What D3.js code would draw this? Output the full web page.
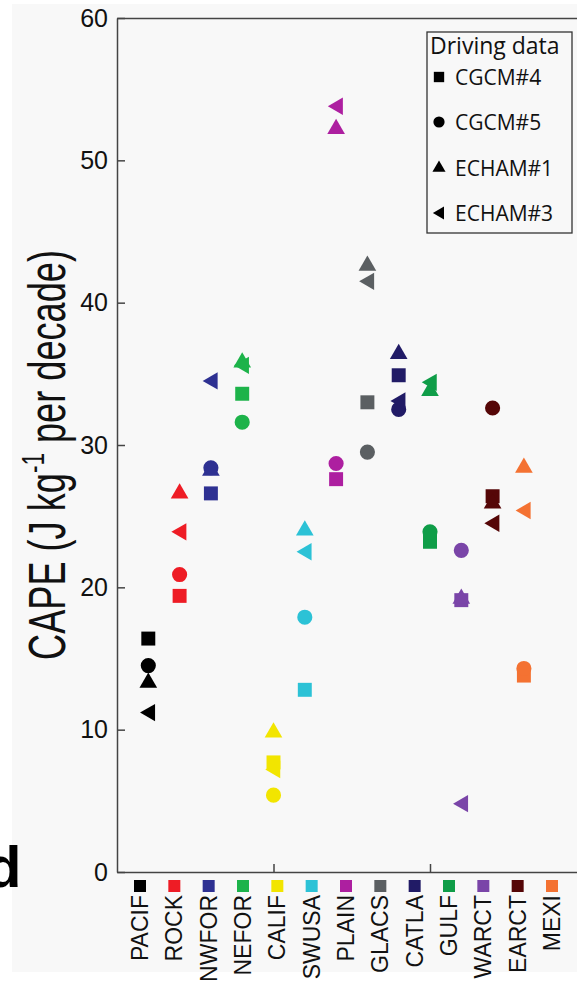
<!DOCTYPE html>
<meta charset="utf-8">
<style>
  body { margin: 0; background: #fff; }
  .axis path, .axis line { stroke: #444; stroke-width: 1.5px; }
  .axis text { font-family: "Liberation Sans", Arial, sans-serif; font-size: 25px; fill: #111; }
</style>
<body>
<div id="chart"></div>
<script src="https://d3js.org/d3.v7.min.js"></script>
<script>
  // regions along the x axis
  var regions = ["PACIF", "ROCK", "NWFOR", "NEFOR", "CALIF", "SWUSA", "PLAIN",
                 "GLACS", "CATLA", "GULF", "WARCT", "EARCT", "MEXI"];
  var regionColors = ["#000000", "#ee1c25", "#2e3192", "#1db34a", "#f2e500", "#2cc2d6", "#ad1fa0",
                      "#5b5f62", "#211b66", "#0f9d48", "#7a45a8", "#550607", "#f47232"];

  // CAPE trend per driving data set (J kg-1 per decade)
  var cgcm4  = [16.4, 19.4, 26.6, 33.6, 7.7, 12.8, 27.6, 33.0, 34.9, 23.2, 19.1, 26.4, 13.8];
  var cgcm5  = [14.5, 20.9, 28.4, 31.6, 5.4, 17.9, 28.7, 29.5, 32.5, 23.9, 22.6, 32.6, 14.3];
  var echam1 = [13.3, 26.6, 28.2, 35.8, 9.8, 24.0, 52.2, 42.6, 36.4, 33.8, 19.2, 25.9, 28.4];
  var echam3 = [11.2, 23.9, 34.5, 35.6, 7.2, 22.5, 53.8, 41.5, 33.1, 34.4, 4.8, 24.5, 25.4];

  var seriesNames = ["CGCM#4", "CGCM#5", "ECHAM#1", "ECHAM#3"];
  var yTicks = [0, 10, 20, 30, 40, 50, 60];

  // left pointing triangle for d3.symbol
  var symbolTriangleLeft = {
    draw: function (context, size) {
      var h = Math.sqrt(size * 4 / Math.sqrt(3));   // side length
      var w = h * Math.sqrt(3) / 2;
      context.moveTo(-w * 0.55, 0);
      context.lineTo(w * 0.45, -h / 2);
      context.lineTo(w * 0.45, h / 2);
      context.closePath();
    }
  };

  var series = [
    { name: seriesNames[0], values: cgcm4,  type: d3.symbolSquare,   size: 195 },
    { name: seriesNames[1], values: cgcm5,  type: d3.symbolCircle,   size: 180 },
    { name: seriesNames[2], values: echam1, type: d3.symbolTriangle, size: 135 },
    { name: seriesNames[3], values: echam3, type: symbolTriangleLeft, size: 130 }
  ];

  var W = 577, H = 981;
  var svg = d3.select("#chart").append("svg")
    .attr("width", W)
    .attr("height", H);

  // light panel behind the figure
  svg.append("rect")
    .attr("x", 12).attr("y", 4)
    .attr("width", W - 12).attr("height", 968)
    .attr("fill", "#f8f8f8");

  var x = d3.scaleLinear().domain([0, 15]).range([117, 586.5]);
  var y = d3.scaleLinear().domain([0, 60]).range([872, 18]);

  // axes, ticks pointing inward
  svg.append("g")
    .attr("class", "axis")
    .attr("transform", "translate(117,0)")
    .call(d3.axisLeft(y).tickValues(yTicks).tickSize(-8).tickSizeOuter(0).tickPadding(9));

  svg.append("g")
    .attr("class", "axis")
    .attr("transform", "translate(0,872)")
    .call(d3.axisBottom(x).tickValues([5, 10]).tickSize(-8).tickSizeOuter(0).tickFormat(""));

  svg.append("g")
    .attr("class", "axis")
    .attr("transform", "translate(0,18)")
    .call(d3.axisTop(x).tickValues([]).tickSizeOuter(0));

  // data points
  series.forEach(function (s) {
    var sym = d3.symbol().type(s.type).size(s.size);
    svg.append("g")
      .selectAll("path")
      .data(s.values)
      .join("path")
      .attr("d", sym)
      .attr("transform", function (d, i) { return "translate(" + x(i + 1) + "," + y(d) + ")"; })
      .attr("fill", function (d, i) { return regionColors[i]; });
  });

  // region labels below the axis
  var label = d3.scaleLinear().domain([0, regions.length - 1]).range([140, 552]);
  var lab = svg.append("g")
    .selectAll("g")
    .data(regions)
    .join("g")
    .attr("transform", function (d, i) { return "translate(" + label(i) + ",0)"; });

  lab.append("rect")
    .attr("x", -6).attr("y", 880)
    .attr("width", 12).attr("height", 12)
    .attr("fill", function (d, i) { return regionColors[i]; });

  lab.append("text")
    .attr("transform", "translate(8,895) rotate(-90)")
    .attr("text-anchor", "end")
    .style("font-family", "Liberation Sans, Arial, sans-serif")
    .style("font-size", "23px")
    .attr("fill", "#111")
    .text(function (d) { return d; });

  // y axis title (tall, narrow lettering)
  var ytitle = svg.append("text")
    .attr("transform", "translate(65,455) rotate(-90) scale(1.13,1.6)")
    .attr("text-anchor", "middle")
    .style("font-family", "Liberation Sans, Arial, sans-serif")
    .style("font-size", "32px")
    .attr("fill", "#111");
  ytitle.append("tspan").text("CAPE (J kg");
  ytitle.append("tspan").attr("dy", -13).style("font-size", "20px").text("-1");
  ytitle.append("tspan").attr("dy", 13).text(" per decade)");

  // legend
  var leg = svg.append("g");
  leg.append("rect")
    .attr("x", 427).attr("y", 32)
    .attr("width", 145).attr("height", 201)
    .attr("fill", "#f8f8f8")
    .attr("stroke", "#333")
    .attr("stroke-width", 1.3);

  leg.append("text")
    .attr("x", 430).attr("y", 54)
    .style("font-family", "Open Sans, sans-serif")
    .style("font-size", "23px")
    .attr("fill", "#111")
    .text("Driving data");

  var legY = [77, 122, 168, 213];
  series.forEach(function (s, i) {
    leg.append("path")
      .attr("d", d3.symbol().type(s.type).size(s.size * 0.55))
      .attr("transform", "translate(439," + legY[i] + ")")
      .attr("fill", "#000");
    leg.append("text")
      .attr("x", 455).attr("y", legY[i] + 8)
      .style("font-family", "Open Sans, sans-serif")
      .style("font-size", "21px")
      .attr("fill", "#111")
      .text(s.name);
  });

  // stray glyph at the left edge
  svg.append("text")
    .attr("x", -14).attr("y", 887)
    .style("font-family", "Liberation Sans, Arial, sans-serif")
    .style("font-size", "58px")
    .style("font-weight", "bold")
    .attr("fill", "#000")
    .text("d");
</script>
</body>
